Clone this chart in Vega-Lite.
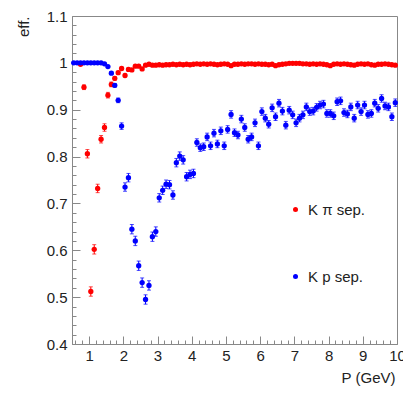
{
  "$schema": "https://vega.github.io/schema/vega-lite/v6.json",
  "width": 325,
  "height": 328,
  "autosize": "none",
  "padding": {"left": 72, "top": 16, "right": 6, "bottom": 50},
  "background": "white",
  "config": {
    "font": "Liberation Sans",
    "view": {"stroke": "#888", "strokeWidth": 1},
    "axis": {
      "grid": false,
      "domainColor": "#888",
      "tickColor": "#888",
      "labelFont": "Liberation Sans",
      "labelFontSize": 15,
      "labelColor": "#222",
      "titleFont": "Liberation Sans",
      "titleFontSize": 15,
      "titleFontWeight": "normal",
      "titleColor": "#222"
    }
  },
  "data": {
    "values": [
      {"s": "K π sep.", "p": 0.75, "eff": 0.997, "err": 0.002},
      {"s": "K π sep.", "p": 0.85, "eff": 0.948, "err": 0.005},
      {"s": "K π sep.", "p": 0.95, "eff": 0.806, "err": 0.009},
      {"s": "K π sep.", "p": 1.05, "eff": 0.512, "err": 0.01},
      {"s": "K π sep.", "p": 1.15, "eff": 0.602, "err": 0.01},
      {"s": "K π sep.", "p": 1.25, "eff": 0.732, "err": 0.009},
      {"s": "K π sep.", "p": 1.35, "eff": 0.837, "err": 0.008},
      {"s": "K π sep.", "p": 1.45, "eff": 0.862, "err": 0.008},
      {"s": "K π sep.", "p": 1.55, "eff": 0.931, "err": 0.006},
      {"s": "K π sep.", "p": 1.65, "eff": 0.954, "err": 0.005},
      {"s": "K π sep.", "p": 1.75, "eff": 0.967, "err": 0.004},
      {"s": "K π sep.", "p": 1.85, "eff": 0.979, "err": 0.003},
      {"s": "K π sep.", "p": 1.95, "eff": 0.988, "err": 0.003},
      {"s": "K π sep.", "p": 2.05, "eff": 0.973, "err": 0.003},
      {"s": "K π sep.", "p": 2.15, "eff": 0.986, "err": 0.003},
      {"s": "K π sep.", "p": 2.25, "eff": 0.985, "err": 0.003},
      {"s": "K π sep.", "p": 2.35, "eff": 0.993, "err": 0.002},
      {"s": "K π sep.", "p": 2.45, "eff": 0.993, "err": 0.002},
      {"s": "K π sep.", "p": 2.55, "eff": 0.987, "err": 0.002},
      {"s": "K π sep.", "p": 2.65, "eff": 0.995, "err": 0.002},
      {"s": "K π sep.", "p": 2.75, "eff": 0.997, "err": 0.002},
      {"s": "K π sep.", "p": 2.85, "eff": 0.995, "err": 0.002},
      {"s": "K π sep.", "p": 2.95, "eff": 0.995, "err": 0.002},
      {"s": "K π sep.", "p": 3.05, "eff": 0.996, "err": 0.002},
      {"s": "K π sep.", "p": 3.15, "eff": 0.995, "err": 0.002},
      {"s": "K π sep.", "p": 3.25, "eff": 0.996, "err": 0.002},
      {"s": "K π sep.", "p": 3.35, "eff": 0.996, "err": 0.002},
      {"s": "K π sep.", "p": 3.45, "eff": 0.997, "err": 0.002},
      {"s": "K π sep.", "p": 3.55, "eff": 0.996, "err": 0.002},
      {"s": "K π sep.", "p": 3.65, "eff": 0.997, "err": 0.002},
      {"s": "K π sep.", "p": 3.75, "eff": 0.996, "err": 0.002},
      {"s": "K π sep.", "p": 3.85, "eff": 0.997, "err": 0.002},
      {"s": "K π sep.", "p": 3.95, "eff": 0.996, "err": 0.002},
      {"s": "K π sep.", "p": 4.05, "eff": 0.997, "err": 0.002},
      {"s": "K π sep.", "p": 4.15, "eff": 0.998, "err": 0.002},
      {"s": "K π sep.", "p": 4.25, "eff": 0.997, "err": 0.002},
      {"s": "K π sep.", "p": 4.35, "eff": 0.998, "err": 0.002},
      {"s": "K π sep.", "p": 4.45, "eff": 0.997, "err": 0.002},
      {"s": "K π sep.", "p": 4.55, "eff": 0.998, "err": 0.002},
      {"s": "K π sep.", "p": 4.65, "eff": 0.997, "err": 0.002},
      {"s": "K π sep.", "p": 4.75, "eff": 0.996, "err": 0.002},
      {"s": "K π sep.", "p": 4.85, "eff": 0.997, "err": 0.002},
      {"s": "K π sep.", "p": 4.95, "eff": 0.998, "err": 0.002},
      {"s": "K π sep.", "p": 5.05, "eff": 0.997, "err": 0.002},
      {"s": "K π sep.", "p": 5.15, "eff": 0.994, "err": 0.002},
      {"s": "K π sep.", "p": 5.25, "eff": 0.997, "err": 0.002},
      {"s": "K π sep.", "p": 5.35, "eff": 0.997, "err": 0.002},
      {"s": "K π sep.", "p": 5.45, "eff": 0.998, "err": 0.002},
      {"s": "K π sep.", "p": 5.55, "eff": 0.997, "err": 0.002},
      {"s": "K π sep.", "p": 5.65, "eff": 0.998, "err": 0.002},
      {"s": "K π sep.", "p": 5.75, "eff": 0.998, "err": 0.002},
      {"s": "K π sep.", "p": 5.85, "eff": 0.997, "err": 0.002},
      {"s": "K π sep.", "p": 5.95, "eff": 0.998, "err": 0.002},
      {"s": "K π sep.", "p": 6.05, "eff": 0.997, "err": 0.002},
      {"s": "K π sep.", "p": 6.15, "eff": 0.997, "err": 0.002},
      {"s": "K π sep.", "p": 6.25, "eff": 0.996, "err": 0.002},
      {"s": "K π sep.", "p": 6.35, "eff": 0.997, "err": 0.002},
      {"s": "K π sep.", "p": 6.45, "eff": 0.994, "err": 0.002},
      {"s": "K π sep.", "p": 6.55, "eff": 0.996, "err": 0.002},
      {"s": "K π sep.", "p": 6.65, "eff": 0.997, "err": 0.002},
      {"s": "K π sep.", "p": 6.75, "eff": 0.998, "err": 0.002},
      {"s": "K π sep.", "p": 6.85, "eff": 0.999, "err": 0.002},
      {"s": "K π sep.", "p": 6.95, "eff": 0.999, "err": 0.002},
      {"s": "K π sep.", "p": 7.05, "eff": 0.999, "err": 0.002},
      {"s": "K π sep.", "p": 7.15, "eff": 0.999, "err": 0.002},
      {"s": "K π sep.", "p": 7.25, "eff": 0.998, "err": 0.002},
      {"s": "K π sep.", "p": 7.35, "eff": 0.998, "err": 0.002},
      {"s": "K π sep.", "p": 7.45, "eff": 0.997, "err": 0.002},
      {"s": "K π sep.", "p": 7.55, "eff": 0.998, "err": 0.002},
      {"s": "K π sep.", "p": 7.65, "eff": 0.997, "err": 0.002},
      {"s": "K π sep.", "p": 7.75, "eff": 0.998, "err": 0.002},
      {"s": "K π sep.", "p": 7.85, "eff": 0.997, "err": 0.002},
      {"s": "K π sep.", "p": 7.95, "eff": 0.996, "err": 0.002},
      {"s": "K π sep.", "p": 8.05, "eff": 0.994, "err": 0.002},
      {"s": "K π sep.", "p": 8.15, "eff": 0.997, "err": 0.002},
      {"s": "K π sep.", "p": 8.25, "eff": 0.998, "err": 0.002},
      {"s": "K π sep.", "p": 8.35, "eff": 0.997, "err": 0.002},
      {"s": "K π sep.", "p": 8.45, "eff": 0.998, "err": 0.002},
      {"s": "K π sep.", "p": 8.55, "eff": 0.997, "err": 0.002},
      {"s": "K π sep.", "p": 8.65, "eff": 0.996, "err": 0.002},
      {"s": "K π sep.", "p": 8.75, "eff": 0.995, "err": 0.002},
      {"s": "K π sep.", "p": 8.85, "eff": 0.997, "err": 0.002},
      {"s": "K π sep.", "p": 8.95, "eff": 0.998, "err": 0.002},
      {"s": "K π sep.", "p": 9.05, "eff": 0.997, "err": 0.002},
      {"s": "K π sep.", "p": 9.15, "eff": 0.998, "err": 0.002},
      {"s": "K π sep.", "p": 9.25, "eff": 0.996, "err": 0.002},
      {"s": "K π sep.", "p": 9.35, "eff": 0.995, "err": 0.002},
      {"s": "K π sep.", "p": 9.45, "eff": 0.997, "err": 0.002},
      {"s": "K π sep.", "p": 9.55, "eff": 0.997, "err": 0.002},
      {"s": "K π sep.", "p": 9.65, "eff": 0.998, "err": 0.002},
      {"s": "K π sep.", "p": 9.75, "eff": 0.997, "err": 0.002},
      {"s": "K π sep.", "p": 9.85, "eff": 0.996, "err": 0.002},
      {"s": "K π sep.", "p": 9.95, "eff": 0.995, "err": 0.002},
      {"s": "K p sep.", "p": 0.55, "eff": 1.0, "err": 0.001},
      {"s": "K p sep.", "p": 0.65, "eff": 1.0, "err": 0.001},
      {"s": "K p sep.", "p": 0.75, "eff": 1.0, "err": 0.001},
      {"s": "K p sep.", "p": 0.85, "eff": 1.0, "err": 0.001},
      {"s": "K p sep.", "p": 0.95, "eff": 1.0, "err": 0.001},
      {"s": "K p sep.", "p": 1.05, "eff": 1.0, "err": 0.001},
      {"s": "K p sep.", "p": 1.15, "eff": 1.0, "err": 0.001},
      {"s": "K p sep.", "p": 1.25, "eff": 1.0, "err": 0.001},
      {"s": "K p sep.", "p": 1.35, "eff": 1.0, "err": 0.001},
      {"s": "K p sep.", "p": 1.45, "eff": 0.998, "err": 0.001},
      {"s": "K p sep.", "p": 1.55, "eff": 0.992, "err": 0.002},
      {"s": "K p sep.", "p": 1.65, "eff": 0.978, "err": 0.003},
      {"s": "K p sep.", "p": 1.75, "eff": 0.952, "err": 0.004},
      {"s": "K p sep.", "p": 1.85, "eff": 0.92, "err": 0.005},
      {"s": "K p sep.", "p": 1.95, "eff": 0.865, "err": 0.007},
      {"s": "K p sep.", "p": 2.05, "eff": 0.735, "err": 0.009},
      {"s": "K p sep.", "p": 2.15, "eff": 0.755, "err": 0.009},
      {"s": "K p sep.", "p": 2.25, "eff": 0.645, "err": 0.01},
      {"s": "K p sep.", "p": 2.35, "eff": 0.62, "err": 0.01},
      {"s": "K p sep.", "p": 2.45, "eff": 0.567, "err": 0.01},
      {"s": "K p sep.", "p": 2.55, "eff": 0.531, "err": 0.01},
      {"s": "K p sep.", "p": 2.65, "eff": 0.495, "err": 0.01},
      {"s": "K p sep.", "p": 2.75, "eff": 0.525, "err": 0.01},
      {"s": "K p sep.", "p": 2.85, "eff": 0.629, "err": 0.01},
      {"s": "K p sep.", "p": 2.95, "eff": 0.64, "err": 0.01},
      {"s": "K p sep.", "p": 3.05, "eff": 0.712, "err": 0.009},
      {"s": "K p sep.", "p": 3.15, "eff": 0.728, "err": 0.009},
      {"s": "K p sep.", "p": 3.25, "eff": 0.741, "err": 0.009},
      {"s": "K p sep.", "p": 3.35, "eff": 0.74, "err": 0.009},
      {"s": "K p sep.", "p": 3.45, "eff": 0.718, "err": 0.009},
      {"s": "K p sep.", "p": 3.55, "eff": 0.787, "err": 0.009},
      {"s": "K p sep.", "p": 3.65, "eff": 0.801, "err": 0.009},
      {"s": "K p sep.", "p": 3.75, "eff": 0.793, "err": 0.009},
      {"s": "K p sep.", "p": 3.85, "eff": 0.757, "err": 0.009},
      {"s": "K p sep.", "p": 3.95, "eff": 0.762, "err": 0.009},
      {"s": "K p sep.", "p": 4.05, "eff": 0.764, "err": 0.009},
      {"s": "K p sep.", "p": 4.15, "eff": 0.83, "err": 0.008},
      {"s": "K p sep.", "p": 4.25, "eff": 0.819, "err": 0.008},
      {"s": "K p sep.", "p": 4.35, "eff": 0.821, "err": 0.008},
      {"s": "K p sep.", "p": 4.45, "eff": 0.842, "err": 0.008},
      {"s": "K p sep.", "p": 4.55, "eff": 0.823, "err": 0.008},
      {"s": "K p sep.", "p": 4.65, "eff": 0.85, "err": 0.008},
      {"s": "K p sep.", "p": 4.75, "eff": 0.827, "err": 0.008},
      {"s": "K p sep.", "p": 4.85, "eff": 0.855, "err": 0.008},
      {"s": "K p sep.", "p": 4.95, "eff": 0.823, "err": 0.008},
      {"s": "K p sep.", "p": 5.05, "eff": 0.858, "err": 0.008},
      {"s": "K p sep.", "p": 5.15, "eff": 0.89, "err": 0.008},
      {"s": "K p sep.", "p": 5.25, "eff": 0.851, "err": 0.008},
      {"s": "K p sep.", "p": 5.35, "eff": 0.846, "err": 0.008},
      {"s": "K p sep.", "p": 5.45, "eff": 0.88, "err": 0.008},
      {"s": "K p sep.", "p": 5.55, "eff": 0.862, "err": 0.008},
      {"s": "K p sep.", "p": 5.65, "eff": 0.837, "err": 0.008},
      {"s": "K p sep.", "p": 5.75, "eff": 0.842, "err": 0.008},
      {"s": "K p sep.", "p": 5.85, "eff": 0.872, "err": 0.008},
      {"s": "K p sep.", "p": 5.95, "eff": 0.823, "err": 0.008},
      {"s": "K p sep.", "p": 6.05, "eff": 0.896, "err": 0.008},
      {"s": "K p sep.", "p": 6.15, "eff": 0.882, "err": 0.008},
      {"s": "K p sep.", "p": 6.25, "eff": 0.869, "err": 0.008},
      {"s": "K p sep.", "p": 6.35, "eff": 0.904, "err": 0.008},
      {"s": "K p sep.", "p": 6.45, "eff": 0.885, "err": 0.008},
      {"s": "K p sep.", "p": 6.55, "eff": 0.914, "err": 0.008},
      {"s": "K p sep.", "p": 6.65, "eff": 0.897, "err": 0.008},
      {"s": "K p sep.", "p": 6.75, "eff": 0.867, "err": 0.008},
      {"s": "K p sep.", "p": 6.85, "eff": 0.899, "err": 0.008},
      {"s": "K p sep.", "p": 6.95, "eff": 0.889, "err": 0.008},
      {"s": "K p sep.", "p": 7.05, "eff": 0.872, "err": 0.008},
      {"s": "K p sep.", "p": 7.15, "eff": 0.882, "err": 0.008},
      {"s": "K p sep.", "p": 7.25, "eff": 0.889, "err": 0.008},
      {"s": "K p sep.", "p": 7.35, "eff": 0.906, "err": 0.008},
      {"s": "K p sep.", "p": 7.45, "eff": 0.896, "err": 0.008},
      {"s": "K p sep.", "p": 7.55, "eff": 0.897, "err": 0.008},
      {"s": "K p sep.", "p": 7.65, "eff": 0.905, "err": 0.008},
      {"s": "K p sep.", "p": 7.75, "eff": 0.91, "err": 0.008},
      {"s": "K p sep.", "p": 7.85, "eff": 0.912, "err": 0.008},
      {"s": "K p sep.", "p": 7.95, "eff": 0.892, "err": 0.008},
      {"s": "K p sep.", "p": 8.05, "eff": 0.892, "err": 0.008},
      {"s": "K p sep.", "p": 8.15, "eff": 0.887, "err": 0.008},
      {"s": "K p sep.", "p": 8.25, "eff": 0.917, "err": 0.008},
      {"s": "K p sep.", "p": 8.35, "eff": 0.919, "err": 0.008},
      {"s": "K p sep.", "p": 8.45, "eff": 0.894, "err": 0.008},
      {"s": "K p sep.", "p": 8.55, "eff": 0.891, "err": 0.008},
      {"s": "K p sep.", "p": 8.65, "eff": 0.906, "err": 0.008},
      {"s": "K p sep.", "p": 8.75, "eff": 0.882, "err": 0.008},
      {"s": "K p sep.", "p": 8.85, "eff": 0.91, "err": 0.008},
      {"s": "K p sep.", "p": 8.95, "eff": 0.896, "err": 0.008},
      {"s": "K p sep.", "p": 9.05, "eff": 0.91, "err": 0.008},
      {"s": "K p sep.", "p": 9.15, "eff": 0.89, "err": 0.008},
      {"s": "K p sep.", "p": 9.25, "eff": 0.892, "err": 0.008},
      {"s": "K p sep.", "p": 9.35, "eff": 0.914, "err": 0.008},
      {"s": "K p sep.", "p": 9.45, "eff": 0.903, "err": 0.008},
      {"s": "K p sep.", "p": 9.55, "eff": 0.924, "err": 0.008},
      {"s": "K p sep.", "p": 9.65, "eff": 0.908, "err": 0.008},
      {"s": "K p sep.", "p": 9.75, "eff": 0.906, "err": 0.008},
      {"s": "K p sep.", "p": 9.85, "eff": 0.885, "err": 0.008},
      {"s": "K p sep.", "p": 9.95, "eff": 0.915, "err": 0.008}
    ]
  },
  "encoding": {
    "x": {
      "field": "p",
      "type": "quantitative",
      "scale": {"domain": [0.5, 10], "nice": false, "zero": false},
      "axis": {
        "title": "P (GeV)",
        "titleAnchor": "end",
        "titleAlign": "right",
        "titleBaseline": "alphabetic",
        "titleX": 323,
        "titleY": 38,
        "values": [0.6, 0.8, 1, 1.2, 1.4, 1.6, 1.8, 2, 2.2, 2.4, 2.6, 2.8, 3, 3.2, 3.4, 3.6, 3.8, 4, 4.2, 4.4, 4.6, 4.8, 5, 5.2, 5.4, 5.6, 5.8, 6, 6.2, 6.4, 6.6, 6.8, 7, 7.2, 7.4, 7.6, 7.8, 8, 8.2, 8.4, 8.6, 8.8, 9, 9.2, 9.4, 9.6, 9.8, 10],
        "tickSize": {"condition": {"test": "abs(datum.value - round(datum.value)) < 0.001", "value": -8}, "value": -4},
        "labelExpr": "abs(datum.value - round(datum.value)) < 0.001 ? format(datum.value, '~g') : ''",
        "labelPadding": 12,
        "labelFlush": false,
        "labelOverlap": false,
        "labelBound": false
      }
    },
    "y": {
      "field": "eff",
      "type": "quantitative",
      "scale": {"domain": [0.4, 1.1], "nice": false, "zero": false},
      "axis": {
        "title": "eff.",
        "titleAngle": -90,
        "titleAlign": "right",
        "titleBaseline": "bottom",
        "titleX": -41,
        "titleY": 0,
        "values": [0.4, 0.42, 0.44, 0.46, 0.48, 0.5, 0.52, 0.54, 0.56, 0.58, 0.6, 0.62, 0.64, 0.66, 0.68, 0.7, 0.72, 0.74, 0.76, 0.78, 0.8, 0.82, 0.84, 0.86, 0.88, 0.9, 0.92, 0.94, 0.96, 0.98, 1, 1.02, 1.04, 1.06, 1.08, 1.1],
        "tickSize": {"condition": {"test": "abs(datum.value * 10 - round(datum.value * 10)) < 0.001", "value": -8}, "value": -4},
        "labelExpr": "abs(datum.value * 10 - round(datum.value * 10)) < 0.001 ? format(datum.value, '~g') : ''",
        "labelPadding": 13,
        "labelFlush": false,
        "labelOverlap": false,
        "labelBound": false
      }
    }
  },
  "layer": [
    {
      "transform": [{"filter": "datum.s === 'K π sep.'"}],
      "mark": {"type": "errorbar", "color": "#ff0000", "ticks": {"size": 4}},
      "encoding": {
        "x": {"field": "p", "type": "quantitative"},
        "y": {"field": "eff", "type": "quantitative"},
        "yError": {"field": "err"}
      }
    },
    {
      "transform": [{"filter": "datum.s === 'K p sep.'"}],
      "mark": {"type": "errorbar", "color": "#0000ff", "ticks": {"size": 4}},
      "encoding": {
        "x": {"field": "p", "type": "quantitative"},
        "y": {"field": "eff", "type": "quantitative"},
        "yError": {"field": "err"}
      }
    },
    {
      "mark": {"type": "circle", "size": 28, "opacity": 1},
      "encoding": {
        "color": {
          "field": "s",
          "type": "nominal",
          "scale": {"domain": ["K π sep.", "K p sep."], "range": ["#ff0000", "#0000ff"]},
          "legend": {
            "orient": "none",
            "legendX": 216,
            "legendY": 186,
            "title": null,
            "padding": 0,
            "labelFont": "Liberation Sans",
            "labelFontSize": 15,
            "labelColor": "#222",
            "labelOffset": 5,
            "symbolType": "circle",
            "symbolSize": 25,
            "rowPadding": 51
          }
        }
      }
    }
  ]
}
